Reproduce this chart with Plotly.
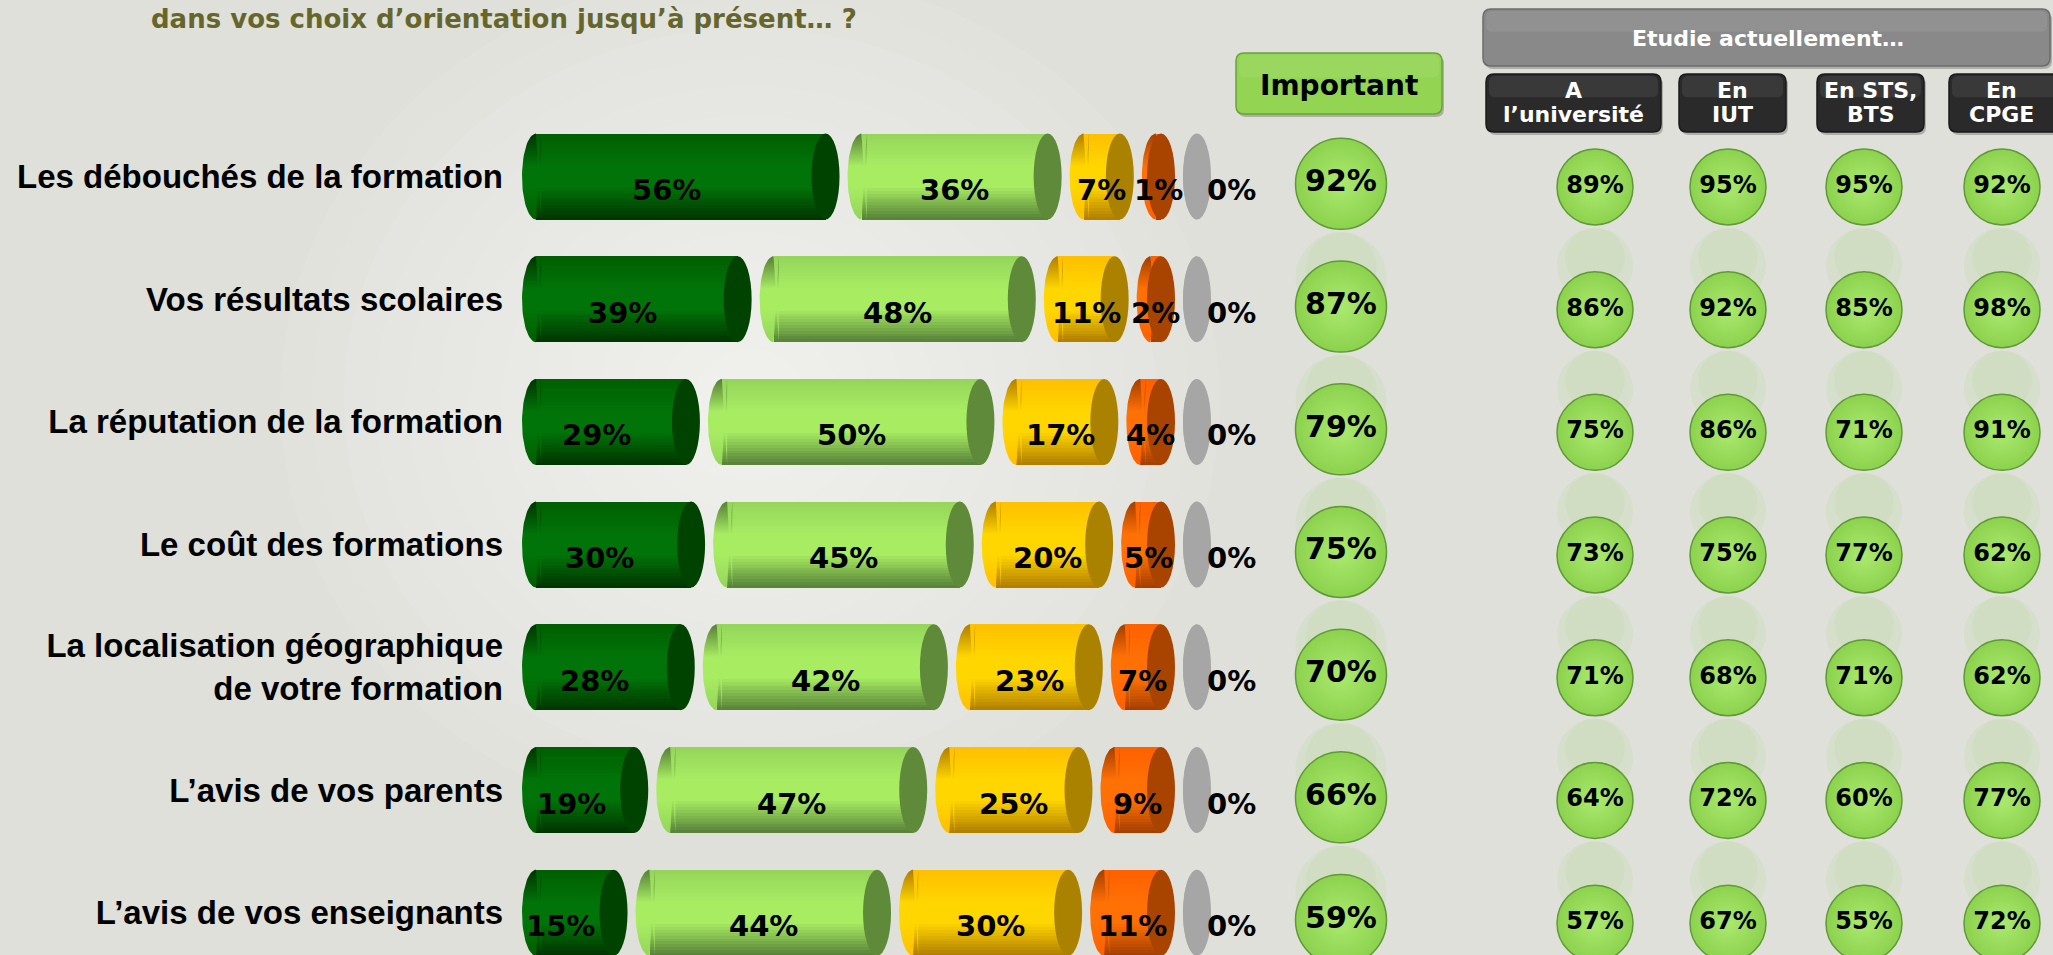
import numpy as np
import plotly.graph_objects as go

# ---------------- data ----------------
criteria = [
    "Les débouchés de la formation",
    "Vos résultats scolaires",
    "La réputation de la formation",
    "Le coût des formations",
    "La localisation géographique<br>de votre formation",
    "L’avis de vos parents",
    "L’avis de vos enseignants",
]
tres_important = [56, 39, 29, 30, 28, 19, 15]
assez_important = [36, 48, 50, 45, 42, 47, 44]
peu_important = [7, 11, 17, 20, 23, 25, 30]
pas_important = [1, 2, 4, 5, 7, 9, 11]
sans_reponse = [0, 0, 0, 0, 0, 0, 0]
important = [92, 87, 79, 75, 70, 66, 59]

groups = ["A<br>l’université", "En<br>IUT", "En STS,<br>BTS", "En<br>CPGE"]
universite = [89, 86, 75, 73, 71, 64, 57]
iut = [95, 92, 86, 75, 68, 72, 67]
sts_bts = [95, 85, 71, 77, 71, 60, 55]
cpge = [92, 98, 91, 62, 62, 77, 72]

title = "dans vos choix d’orientation jusqu’à présent… ?"
group_title = "Etudie actuellement…"

segments = [tres_important, assez_important, peu_important, pas_important, sans_reponse]
group_values = [universite, iut, sts_bts, cpge]

# ---------------- layout constants (px) ----------------
W, H = 2053, 955
LEFT = 522                 # x where the cylinders start
ROW0, PITCH = 176.5, 122.7  # first row centre, row spacing
PX_PER_PCT = 5.17
CAP = 28 / PX_PER_PCT      # width of a cylinder end, in % units
GAP = 8 / PX_PER_PCT
BAR_H = 86 / PITCH
N_BANDS = 30
FONT = "DejaVu Sans"
LABEL_FONT = "Liberation Sans"

imp_x = 1341
group_x = [1595, 1728, 1864, 2002]
group_box_x = [(1486, 1661), (1679, 1786), (1817, 1924), (1949, 2062)]

seg_styles = [
    dict(top="#005e00", mid="#007408", bottom="#003400", cap="#004200", shift=0.0),
    dict(top="#94d55a", mid="#a8ec62", bottom="#557f37", cap="#5e8a3a", shift=0.5),
    dict(top="#ffbf00", mid="#ffd600", bottom="#b07c00", cap="#ab8200", shift=0.5),
    dict(top="#ff6000", mid="#ff7005", bottom="#a23e00", cap="#a84400", shift=0.5),
    dict(top="#a6a6a6", mid="#a6a6a6", bottom="#a6a6a6", cap="#a6a6a6", shift=0.5),
]

rows = np.arange(len(criteria))


def hex_rgb(h):
    return np.array([int(h[i:i + 2], 16) for i in (1, 3, 5)], float)


def stops(st):
    return [(0.0, st["top"]), (0.38, st["mid"]), (0.62, st["mid"]), (1.0, st["bottom"])]


def shade(st, t):
    s = stops(st)
    for (t0, c0), (t1, c1) in zip(s[:-1], s[1:]):
        if t <= t1:
            f = (t - t0) / (t1 - t0) if t1 > t0 else 0
            c = hex_rgb(c0) * (1 - f) + hex_rgb(c1) * f
            return "rgb(%d,%d,%d)" % tuple(c.round())
    return st["bottom"]


def px(x):  # page pixel -> paper x
    return (x - LEFT) / (W - LEFT)


def py(y):  # page pixel -> paper y
    return 1 - y / H


def rounded_rect(x0, y0, x1, y1, r):
    return (f"M{x0 + r},{y0} L{x1 - r},{y0} Q{x1},{y0} {x1},{y0 + r} "
            f"L{x1},{y1 - r} Q{x1},{y1} {x1 - r},{y1} L{x0 + r},{y1} "
            f"Q{x0},{y1} {x0},{y1 - r} L{x0},{y0 + r} Q{x0},{y0} {x0 + r},{y0} Z")


fig = go.Figure()
shapes = []
annotations = []

# soft light glow behind the bars (stacked translucent ellipses)
for s in np.linspace(1.0, 0.12, 14):
    shapes.append(dict(type="circle", xref="paper", yref="paper", layer="below",
                       x0=px(750 - 470 * s), x1=px(750 + 470 * s),
                       y0=py(400 - 430 * s), y1=py(400 + 430 * s),
                       fillcolor="rgba(255,255,255,0.065)", line=dict(width=0)))

# left edge of every cylinder
lefts = []
pos = np.zeros(len(rows))
for vals in segments:
    lefts.append(pos.copy())
    pos = pos + np.array(vals, float) + CAP + GAP

# cylinder bodies: horizontal bars split into shaded bands
band = BAR_H / N_BANDS
for vals, left, st in zip(segments, lefts, seg_styles):
    v = np.array(vals, float)
    if not v.any():
        continue
    for b in range(N_BANDS):
        fig.add_trace(go.Bar(
            y=rows, x=v, base=left + CAP / 2, orientation="h",
            width=band * (1.6 if b < N_BANDS - 1 else 1.0), offset=-BAR_H / 2 + b * band,
            marker=dict(color=shade(st, (b + 0.5) / N_BANDS), line_width=0),
            hoverinfo="skip", showlegend=False,
        ))

# rounded left ends (half ellipses with the same vertical gradient),
# running a little into the body so no seam shows
th = np.linspace(np.pi / 2, 3 * np.pi / 2, 40)
for vals, left, st in zip(segments, lefts, seg_styles):
    for r, lx, v in zip(rows, left, vals):
        cx = lx + CAP / 2
        ext = min(v, 1.0)
        xs = np.concatenate([cx + CAP / 2 * np.cos(th), [cx + ext, cx + ext]])
        ys = np.concatenate([r + BAR_H / 2 * np.sin(th), [r + BAR_H / 2, r - BAR_H / 2]])
        fig.add_trace(go.Scatter(
            x=xs, y=ys, mode="lines", fill="toself", line=dict(width=0),
            fillgradient=dict(type="vertical",
                              colorscale=[[s, c] for s, c in stops(st)]),
            hoverinfo="skip", showlegend=False,
        ))

# right ends + value labels
for vals, left, st in zip(segments, lefts, seg_styles):
    for r, lx, v in zip(rows, left, vals):
        cx = lx + CAP / 2 + v
        shapes.append(dict(type="circle", xref="x", yref="y", layer="above",
                           x0=cx - CAP / 2, x1=cx + CAP / 2,
                           y0=r - BAR_H / 2, y1=r + BAR_H / 2,
                           fillcolor=st["cap"], line=dict(width=0)))
        tx = lx + st["shift"] * CAP + v / 2
        if v == 0:
            tx = cx + 6.7
        annotations.append(dict(x=tx, y=r + 0.11, xref="x", yref="y", text=f"{v}%",
                                showarrow=False, font=dict(family=FONT, size=29, color="black",
                                                           weight="bold")))

# "Important" bubbles and the four sub-groups
bubble_cols = [(imp_x, important, 91, 30, 0.06)] + [
    (gx, vals, 76, 24, 0.085) for gx, vals in zip(group_x, group_values)]
for bx, vals, size, fsize, dy in bubble_cols:
    ys = rows + dy
    for y in ys:
        # faint mirror image under each bubble
        for op, grow in ((0.12, 0), (0.1, -0.22)):
            shapes.append(dict(type="circle", xref="x2", yref="y", layer="below",
                               xsizemode="pixel", ysizemode="pixel", xanchor=bx, yanchor=y,
                               x0=-size / 2 * (1 + grow), x1=size / 2 * (1 + grow),
                               y0=-size / 2 - 3, y1=-size / 2 - 3 - size * (1 + grow),
                               fillcolor=f"rgba(160,214,110,{op})", line=dict(width=0)))
    fig.add_trace(go.Scatter(
        x=[bx] * len(vals), y=ys, xaxis="x2", yaxis="y", mode="markers+text",
        text=[f"{v}%" for v in vals], textposition="middle center",
        textfont=dict(family=FONT, size=fsize, color="black", weight="bold"),
        marker=dict(size=size, color="#8cd24e",
                    gradient=dict(type="radial", color="#abe96e"),
                    line=dict(color="#5f9a34", width=1.5)),
        cliponaxis=False, hoverinfo="skip", showlegend=False,
    ))


# header boxes
def header(x0, y0, x1, y1, fill, edge):
    shapes.append(dict(type="path", xref="x2", yref="y2", layer="above",
                       path=rounded_rect(x0 + 2, y0 + 3, x1 + 2, y1 + 3, 8),
                       fillcolor="rgba(0,0,0,0.22)", line=dict(width=0)))
    shapes.append(dict(type="path", xref="x2", yref="y2", layer="above",
                       path=rounded_rect(x0, y0, x1, y1, 8),
                       fillcolor=fill, line=dict(color=edge, width=1.5)))
    shapes.append(dict(type="path", xref="x2", yref="y2", layer="above",
                       path=rounded_rect(x0 + 3, y0 + 2, x1 - 3, y0 + (y1 - y0) * 0.4, 6),
                       fillcolor="rgba(255,255,255,0.07)", line=dict(width=0)))


def label(x, y, text, color, size):
    annotations.append(dict(x=x, y=y, xref="x2", yref="y2", text=text, showarrow=False,
                            font=dict(family=FONT, size=size, color=color, weight="bold")))


header(1236, 53, 1442, 114, "#93d453", "#69a33a")
label(1339, 85, "Important", "black", 28)
header(1483, 9, 2050, 66, "#898989", "#6c6c6c")
label(1768, 38, group_title, "white", 22)
for (x0, x1), g in zip(group_box_x, groups):
    header(x0, 74, x1, 132, "#2a2a2a", "#1a1a1a")
    cx = (x0 + min(x1, W)) / 2
    for line, ly in zip(g.split("<br>"), (90, 114)):
        label(cx, ly, line, "white", 22)

annotations.append(dict(x=px(504), y=py(19), xref="paper", yref="paper",
                        text=title, showarrow=False, xanchor="center", yanchor="middle",
                        font=dict(family=FONT, size=26, color="#66662c", weight="bold")))

fig.update_layout(
    width=W, height=H, autosize=False,
    margin=dict(l=LEFT, r=0, t=0, b=0),
    paper_bgcolor="#dfe0da", plot_bgcolor="rgba(0,0,0,0)",
    barmode="overlay", bargap=0,
    xaxis=dict(range=[0, (W - LEFT) / PX_PER_PCT], visible=False, fixedrange=True),
    yaxis=dict(range=[(H - ROW0) / PITCH, -ROW0 / PITCH], tickvals=rows, ticktext=criteria,
               ticks="", showgrid=False, zeroline=False, showline=False,
               ticklabelstandoff=18,
               tickfont=dict(family=LABEL_FONT, size=33, color="black", weight="bold")),
    xaxis2=dict(range=[LEFT, W], overlaying="x", anchor="y", visible=False),
    yaxis2=dict(range=[H, 0], overlaying="y", anchor="x", visible=False),
    shapes=shapes, annotations=annotations,
    showlegend=False,
)

fig.write_html("out.html", config={"displayModeBar": False},
               post_script="document.body.style.margin='0';")
